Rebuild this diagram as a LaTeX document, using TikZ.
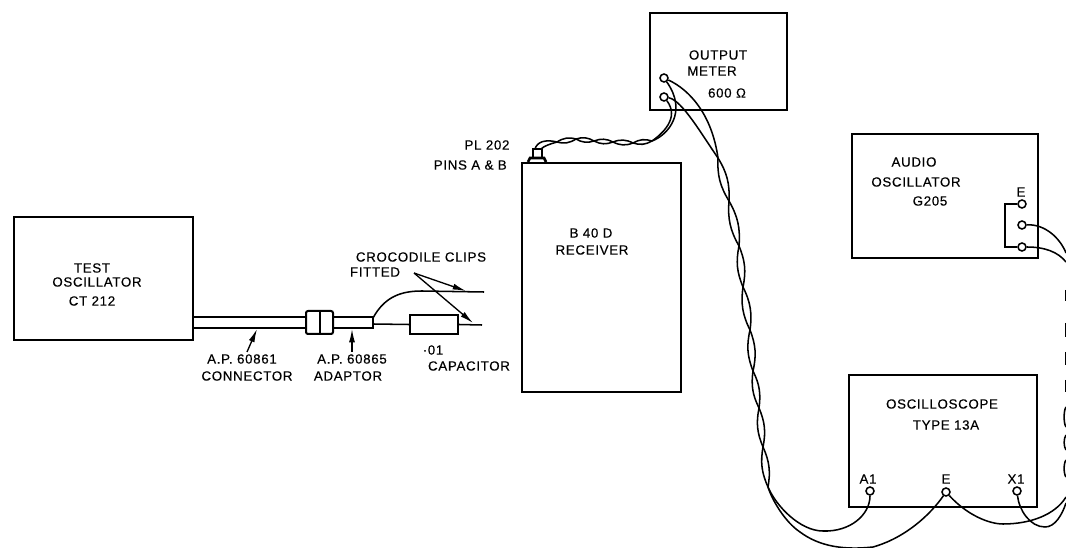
\documentclass[tikz,border=0pt]{standalone}
\usepackage{fontspec}
\setmainfont[LetterSpace=5,FakeBold=0.35]{Liberation Sans}
\usetikzlibrary{arrows.meta}
\tikzset{
  unit/.style={draw=black,line width=1.7pt,fill=none},
  wire/.style={draw=black,line width=1.15pt},
  lbl/.style={inner sep=0pt,font=\fontsize{10pt}{11pt}\selectfont,text=black},
  term/.style={circle,draw=black,line width=1.15pt,fill=white,minimum size=6pt,inner sep=0pt},
  pointer/.style={draw=black,line width=1pt,-{Latex[length=10pt,width=4.5pt]}},
}
\begin{document}
\begin{tikzpicture}[x=0.75pt,y=-0.75pt]
\useasboundingbox (0,0) rectangle (1066,548);
\clip (0,0) rectangle (1066,548);
% units
\draw[unit] (14,217) rectangle (193,340);
\draw[unit] (650,13) rectangle (787,110);
\draw[unit] (522,163) rectangle (681,392);
\draw[unit] (852,134) rectangle (1038,258);
\draw[unit] (849,375) rectangle (1037,507);
% coax line-up
\draw[wire,line width=1.4pt] (193,317) rectangle (307,328);
\draw[unit,line width=1.5pt,rounded corners=1.5pt,fill=white] (306,311) rectangle (333,334);
\draw[wire,line width=1.5pt] (320,311) -- (320,334);
\draw[wire,line width=1.4pt] (333,317) rectangle (373,328);
\coordinate (adpT) at (373,318);
\coordinate (adpM) at (373,324);
\coordinate (clipA) at (484,292);
\coordinate (clipB) at (482,325);
\node[draw=black,line width=1.4pt,minimum width=36pt,minimum height=14pt,inner sep=0pt] (cap) at (434,324.5) {};
\draw[wire] (adpT) .. controls (385,296) and (402,291) .. (422,291) -- (clipA);
\draw[wire] (adpM) -- (cap.west);
\draw[wire] (cap.east) -- (clipB);
% pointers
\coordinate (ptr) at (414,273);
\coordinate (ptrA) at (466,291);
\coordinate (ptrB) at (473,323);
\draw[pointer] (ptr) -- (ptrA);
\draw[pointer] (ptr) -- (ptrB);
\coordinate (cn1) at (247,352); \coordinate (cn2) at (257,329);
\coordinate (ad1) at (352,352); \coordinate (ad2) at (352,329);
\draw[pointer] (cn1) -- (cn2);
\draw[pointer] (ad1) -- (ad2);
% plug
\draw[wire,line width=1.4pt,fill=white] (533,149) rectangle (542,158);
\draw[wire,line width=2pt] (528,162) -- (530,158) -- (544,158) -- (546,162);
% terminals
\node[term] (mA) at (664,78) {};
\node[term] (mB) at (664,97) {};
\node[term] (oE) at (1022,204) {};
\node[term] (oS) at (1022,225) {};
\node[term] (oG) at (1022,247) {};
\node[term] (sA) at (870,491) {};
\node[term] (sE) at (946,492) {};
\node[term] (sX) at (1017,491) {};
% twist to receiver
\foreach \n/\x/\y in {a/557/142,b/576/139,c/594/141,d/613/142,e/633/143,f/652/141}{\coordinate (\n) at (\x,\y);}
\draw[wire] (a) to[bend left=24] (b) to[bend right=24] (c) to[bend left=24] (d) to[bend right=24] (e) to[bend left=24] (f);
\draw[wire] (a) to[bend right=24] (b) to[bend left=24] (c) to[bend right=24] (d) to[bend left=24] (e) to[bend right=24] (f);
\coordinate (pl1) at (535,149); \coordinate (pl2) at (541,149);
\draw[wire] (pl1) .. controls (537,142) and (545,139) .. (a);
\draw[wire] (pl2) .. controls (544,146) and (550,144) .. (a);
\draw[wire] (f) .. controls (668,135) and (688,112) .. (mA);
\draw[wire] (f) .. controls (662,134) and (680,118) .. (mB);
% long twist
\foreach \n/\x/\y in {p/718/158,q/729/201,r/739/246,s/743/287,t/750/330,u/753/371,v/759/408,w/763/447,z/768/487}{\coordinate (\n) at (\x,\y);}
\coordinate (z2) at (787,518);
\draw[wire] (mA) .. controls (690,90) and (712,115) .. (p);
\draw[wire] (mB) .. controls (682,100) and (702,135) .. (p);
\draw[wire] (p) to[bend left=17] (q) to[bend right=17] (r) to[bend left=17] (s) to[bend right=17] (t) to[bend left=17] (u) to[bend right=17] (v) to[bend left=17] (w) to[bend right=17] (z);
\draw[wire] (p) to[bend right=17] (q) to[bend left=17] (r) to[bend right=17] (s) to[bend left=17] (t) to[bend right=17] (u) to[bend left=17] (v) to[bend right=17] (w) to[bend left=17] (z);
% to scope
\draw[wire] (z) .. controls (776,506) and (800,531) .. (823,531) .. controls (850,532) and (870,515) .. (sA);
\draw[wire] (z) .. controls (772,500) and (785,522) .. (800,532) .. controls (820,547) and (845,550) .. (873,547) .. controls (905,538) and (930,515) .. (sE);
% audio bracket
\draw[wire] (oE) -- (1005,204) -- (1005,247) -- (oG);
\coordinate (eR) at (1066,253); \coordinate (eG) at (1066,262);
\draw[wire] (oS) .. controls (1045,224) and (1060,238) .. (eR);
\draw[wire] (oG) .. controls (1045,247) and (1058,252) .. (eG);
% scope right
\coordinate (xR) at (1066,497); \coordinate (xS) at (1066,503);
\draw[wire] (sE) .. controls (968,516) and (990,524) .. (1003,524) .. controls (1030,524) and (1055,515) .. (xR);
\draw[wire] (sX) .. controls (1019,510) and (1030,527) .. (1045,527) .. controls (1055,527) and (1062,515) .. (xS);
% twisted pair cut by the right edge
\foreach \a/\b in {290/301,323/337,352/365,380/392}{
  \draw[wire,line width=0.9pt] (1065.7,\a) -- (1065.7,\b);
}
\foreach \a/\b in {407/427,435/450,460/477}{
  \draw[wire] (1066,\a) .. controls (1063.5,\a+3) and (1063.5,\b-3) .. (1066,\b);
}
% labels
\node[lbl] (t1) at (92,268) {TEST};
\node[lbl] (t2) at (97,282) {OSCILLATOR};
\node[lbl] (t3) at (92,301) {CT 212};
\node[lbl] (t4) at (242,359) {A.P. 60861};
\node[lbl] (t5) at (247,376) {CONNECTOR};
\node[lbl] (t6) at (352,359) {A.P. 60865};
\node[lbl] (t7) at (348,376) {ADAPTOR};
\node[lbl] (t8) at (433,350) {·01};
\node[lbl] (t9) at (469,366) {CAPACITOR};
\node[lbl] (t10) at (421,257) {CROCODILE CLIPS};
\node[lbl] (t11) at (375,272) {FITTED};
\node[lbl] (t12) at (487,145) {PL 202};
\node[lbl,anchor=east] (t13) at (507,165) {PINS A \& B};
\node[lbl] (t14) at (591,233) {B 40 D};
\node[lbl] (t15) at (592,250) {RECEIVER};
\node[lbl] (t16) at (718,55) {OUTPUT};
\node[lbl] (t17) at (712,71) {METER};
\node[lbl] (t18) at (727,93) {600 Ω};
\node[lbl] (t19) at (914,162) {AUDIO};
\node[lbl] (t20) at (916,182) {OSCILLATOR};
\node[lbl] (t21) at (930,201) {G205};
\node[lbl] (t22) at (1021,192) {E};
\node[lbl] (t23) at (942,404) {OSCILLOSCOPE};
\node[lbl] (t24) at (946,425) {TYPE 13A};
\node[lbl] (t25) at (868,479) {A1};
\node[lbl] (t26) at (946,479) {E};
\node[lbl] (t27) at (1016,479) {X1};
\end{tikzpicture}
\end{document}
